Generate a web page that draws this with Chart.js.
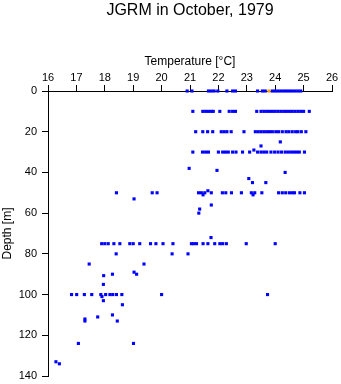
<!DOCTYPE html>
<html>
<head>
<meta charset="utf-8">
<script src="https://cdn.jsdelivr.net/npm/chart.js@4"></script>
<style>
  html, body { margin: 0; padding: 0; background: #fff; }
  canvas { display: block; }
</style>
</head>
<body>
<canvas id="chart" width="341" height="384"></canvas>
<script>
// temperatures read at the standard depths (m)
const temps0 = [20.9, 21.07, 21.65, 21.75, 21.85, 21.98, 22.3, 22.5, 22.6, 23.38, 23.55, 23.65,
  23.9, 24.0, 24.1, 24.2, 24.3, 24.4, 24.5, 24.6, 24.7, 24.8, 24.9];
const temps10 = [21.1, 21.45, 21.55, 21.65, 21.75, 21.82, 22.05, 22.38, 22.5, 22.6, 23.35,
  23.5, 23.6, 23.7, 23.8, 23.9, 24.0, 24.1, 24.2, 24.3, 24.4, 24.5,
  24.6, 24.7, 24.8, 24.9, 25.0, 25.2];
const temps20 = [21.2, 21.45, 21.62, 21.8, 22.1, 22.2, 22.3, 22.45, 22.9,
  23.3, 23.4, 23.5, 23.6, 23.7, 23.8, 23.9, 24.02, 24.12, 24.25, 24.38,
  24.48, 24.6, 24.72, 24.8, 24.92, 25.08];
const temps30 = [21.1, 21.44, 21.55, 21.65, 22.0, 22.15, 22.25, 22.35, 22.5, 22.62, 22.85, 23.1,
  23.38, 23.5, 23.6, 23.7, 23.85, 23.98, 24.1, 24.22, 24.35,
  24.45, 24.55, 24.65, 24.75, 24.85, 25.03];
const temps50 = [18.41, 19.67, 19.84, 21.3, 21.4, 21.52, 21.75, 22.14, 22.26, 22.46, 22.81,
  23.16, 23.28, 23.53, 24.12, 24.25, 24.37, 24.5, 24.6, 24.68, 24.87, 25.03];
const temps75 = [17.89, 18.0, 18.12, 18.32, 18.53, 18.88, 19.0, 19.23, 19.61, 19.8, 20.05, 20.4,
  21.05, 21.13, 21.23, 21.46, 21.63, 21.87, 22.05, 22.15, 22.28, 22.98, 24.0];
const temps100 = [16.83, 17.01, 17.28, 17.54, 17.86, 18.03, 18.18, 18.28, 18.41, 18.6, 20.0, 23.73];

// the scattered samples between the standard depths
const otherTemps = [24.18, 23.5, 23.25, 20.97, 21.95, 24.35, 23.07, 23.2, 23.67, 21.63, 21.46, 23.22,
  19.03, 21.75, 21.34, 21.31, 21.74, 18.4, 20.37, 20.93, 17.45, 19.38, 19.03, 19.12, 17.96, 18.27,
  17.95, 17.9, 17.95, 18.62, 18.27, 17.75, 17.3, 17.3, 18.44, 17.07, 19.01, 16.28, 16.4];
const otherDepths = [25, 27, 29, 38, 39, 40, 43, 45, 45, 49, 51, 51,
  53, 56, 58, 60, 72, 80, 80, 80, 85, 85, 89, 90, 90.7, 90,
  95, 101, 103, 105, 110, 111, 112, 113, 113, 124, 124, 133, 134];

// highlighted sample
const markTemps = [23.78];
const markDepths = [0];

const xTicks = [16, 17, 18, 19, 20, 21, 22, 23, 24, 25, 26];
const yTicks = [0, 20, 40, 60, 80, 100, 120, 140];

function levelPoints(temps, depth) {
  return temps.map(t => ({ x: t, y: depth }));
}

const bluePoints = [].concat(
  levelPoints(temps0, 0),
  levelPoints(temps10, 10),
  levelPoints(temps20, 20),
  levelPoints(temps30, 30),
  levelPoints(temps50, 50),
  levelPoints(temps75, 75),
  levelPoints(temps100, 100),
  otherTemps.map((t, i) => ({ x: t, y: otherDepths[i] }))
);
const markPoints = markTemps.map((t, i) => ({ x: t, y: markDepths[i] }));

const font = 'Liberation Sans, Arial, sans-serif';

new Chart(document.getElementById('chart').getContext('2d'), {
  type: 'scatter',
  data: {
    datasets: [
      {
        data: markPoints,
        backgroundColor: '#ffa500',
        pointStyle: 'rect',
        pointRadius: 2.2,
        borderWidth: 0,
        clip: false
      },
      {
        data: bluePoints,
        backgroundColor: '#0000ff',
        pointStyle: 'rect',
        pointRadius: 2.2,
        borderWidth: 0,
        clip: false
      }
    ]
  },
  options: {
    responsive: false,
    animation: false,
    devicePixelRatio: 1,
    layout: { padding: { left: 0, right: 9, top: 0, bottom: 8 } },
    plugins: {
      legend: { display: false },
      tooltip: { enabled: false },
      title: {
        display: true,
        text: 'JGRM in October, 1979',
        color: '#000',
        fullSize: false,
        font: { family: font, size: 16, weight: 'normal', lineHeight: 1 },
        padding: { top: 3, bottom: 7 }
      }
    },
    scales: {
      x: {
        type: 'linear',
        position: 'top',
        min: 16,
        max: 26,
        afterBuildTicks: scale => { scale.ticks = xTicks.map(v => ({ value: v })); },
        afterFit: scale => {
          scale.height = 65;
          scale.paddingLeft = 0;
          scale.paddingRight = 0;
        },
        ticks: { color: '#000', font: { family: font, size: 11 }, padding: 0, maxRotation: 0 },
        grid: { drawOnChartArea: false, tickLength: 6, color: '#000' },
        border: { color: '#000', width: 1 },
        title: {
          display: true,
          text: 'Temperature [°C]',
          color: '#000',
          font: { family: font, size: 12 },
          padding: { top: 28, bottom: 0 }
        }
      },
      y: {
        type: 'linear',
        position: 'left',
        reverse: true,
        min: 0,
        max: 140,
        afterBuildTicks: scale => { scale.ticks = yTicks.map(v => ({ value: v })); },
        afterFit: scale => {
          scale.width = 48;
          scale.paddingTop = 0;
          scale.paddingBottom = 0;
        },
        ticks: { color: '#000', font: { family: font, size: 11 }, padding: 5 },
        grid: { drawOnChartArea: false, tickLength: 6, color: '#000' },
        border: { color: '#000', width: 1 },
        title: {
          display: true,
          text: 'Depth [m]',
          color: '#000',
          font: { family: font, size: 12 },
          padding: { top: 0, bottom: 0 }
        }
      }
    }
  }
});
</script>
</body>
</html>
